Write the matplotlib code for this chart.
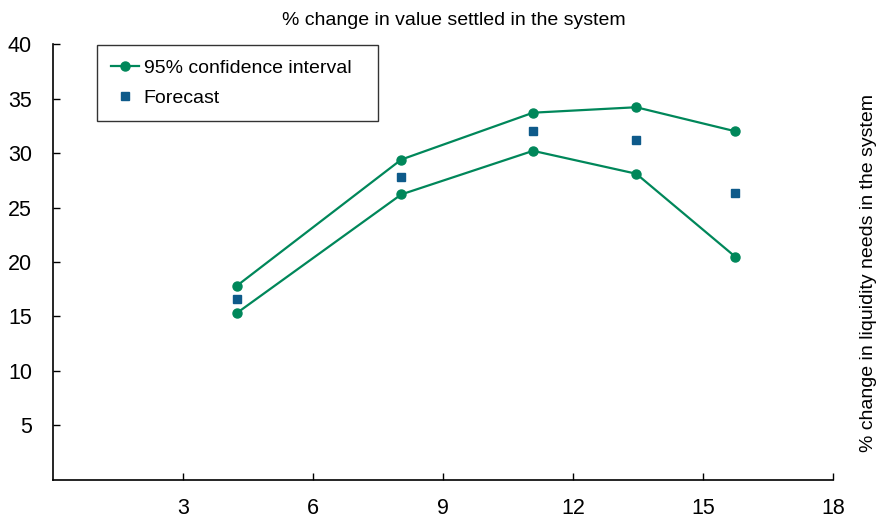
import matplotlib
matplotlib.use('Agg')
import matplotlib.pyplot as plt

plt.rcParams['font.family'] = ['Liberation Sans', 'DejaVu Sans']

# data
x_vals = [4.24, 8.04, 11.08, 13.46, 15.74]
upper = [17.8, 29.4, 33.7, 34.2, 32.0]
lower = [15.3, 26.2, 30.2, 28.1, 20.5]
forecast = [16.6, 27.8, 32.0, 31.2, 26.3]
x_ticks = [3, 6, 9, 12, 15, 18]
y_ticks = [5, 10, 15, 20, 25, 30, 35, 40]

green = '#00875A'
blue = '#0E5A8A'

fig = plt.figure(figsize=(8.8, 5.18), dpi=100)
ax = fig.add_axes([0.060, 0.0734, 0.8866, 0.8416])

ax.plot(x_vals, upper, color=green, lw=1.6, marker='o', ms=6.5,
        label='95% confidence interval')
ax.plot(x_vals, lower, color=green, lw=1.6, marker='o', ms=6.5)
ax.plot(x_vals, forecast, ls='none', marker='s', ms=6.2, color=blue,
        label='Forecast')

ax.set_xlim(0, 18)
ax.set_ylim(0, 40)
ax.set_xticks(x_ticks)
ax.set_yticks(y_ticks)
ax.tick_params(direction='in', length=5, width=1, labelsize=15.5)
ax.tick_params(axis='x', pad=13)
ax.tick_params(axis='y', pad=15)
for s in ['top', 'right']:
    ax.spines[s].set_visible(False)
for s in ['left', 'bottom']:
    ax.spines[s].set_linewidth(1.2)

ax.set_title('% change in value settled in the system', fontsize=14, pad=14,
             x=0.514)
ax.yaxis.set_label_position('right')
ax.set_ylabel('% change in liquidity needs in the system', fontsize=14)
ax.yaxis.set_label_coords(1.035, 0.475)

leg = ax.legend(loc='upper left', bbox_to_anchor=(0.0564, 0.5, 0.360, 0.498),
                mode='expand', fontsize=14,
                frameon=True, fancybox=False, edgecolor='black',
                handlelength=1.45, handletextpad=0.25, borderpad=0.72,
                labelspacing=0.65, borderaxespad=0)
leg.get_frame().set_linewidth(1)

fig.savefig('out.png', dpi=100)
